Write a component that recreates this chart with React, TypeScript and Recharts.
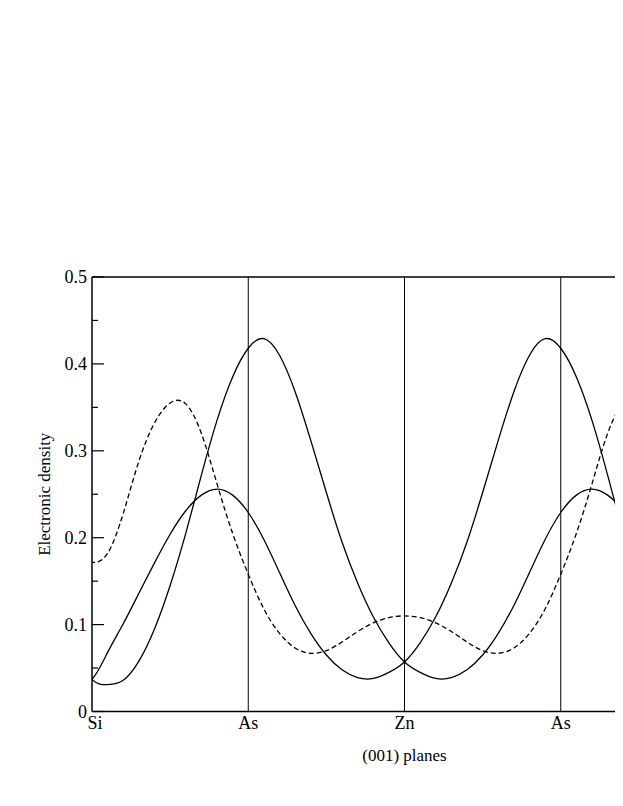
import { LineChart, Line, XAxis, YAxis, ReferenceLine } from "recharts";

// positions along the (001) stacking, in plane units (Si = 0, As = 1, Zn = 2, As = 3)
// one extra sample on each side beyond the frame keeps the curve ends smooth
const POS = [
  -0.1,
  0, 0.1, 0.2, 0.3, 0.4, 0.5, 0.6, 0.7, 0.8, 0.9,
  1, 1.1, 1.2, 1.3, 1.4, 1.5, 1.6, 1.7, 1.8, 1.9,
  2, 2.1, 2.2, 2.3, 2.4, 2.5, 2.6, 2.7, 2.8, 2.9,
  3, 3.1, 3.2, 3.3, 3.4, 3.5, 3.6, 3.7, 3.8, 3.9, 4,
  4.1,
];

// solid curve with the tall peak just after the first As
const STATE_A = [
  0.068,
  0.037, 0.031, 0.036, 0.058, 0.095, 0.145, 0.205, 0.272, 0.335, 0.385,
  0.418, 0.429, 0.410, 0.368, 0.312, 0.252, 0.195, 0.148, 0.109, 0.079,
  0.057, 0.045, 0.038, 0.039, 0.048, 0.065, 0.090, 0.122, 0.160, 0.198,
  0.229, 0.249, 0.256, 0.249, 0.231, 0.204, 0.171, 0.136, 0.101, 0.068, 0.037,
  0.031,
];

// solid curve with the low peak just before the first As
const STATE_B = [
  0.031,
  0.037, 0.068, 0.101, 0.136, 0.171, 0.204, 0.231, 0.249, 0.256, 0.249,
  0.229, 0.198, 0.160, 0.122, 0.090, 0.065, 0.048, 0.039, 0.038, 0.045,
  0.057, 0.079, 0.109, 0.148, 0.195, 0.252, 0.312, 0.368, 0.410, 0.429,
  0.418, 0.385, 0.335, 0.272, 0.205, 0.145, 0.095, 0.058, 0.036, 0.031, 0.037,
  0.068,
];

// dashed curve
const STATE_C = [
  0.182,
  0.172, 0.182, 0.228, 0.288, 0.332, 0.355, 0.354, 0.320, 0.262, 0.205,
  0.158, 0.118, 0.090, 0.073, 0.067, 0.070, 0.080, 0.092, 0.102, 0.108,
  0.110, 0.108, 0.102, 0.092, 0.080, 0.070, 0.067, 0.073, 0.090, 0.118,
  0.158, 0.205, 0.262, 0.320, 0.354, 0.355, 0.332, 0.288, 0.228, 0.182, 0.172,
  0.182,
];

const PLANES = ["Si", "As", "Zn", "As"];
const Y_TICKS = [0, 0.05, 0.1, 0.15, 0.2, 0.25, 0.3, 0.35, 0.4, 0.45, 0.5];

const FONT = "'Liberation Serif', 'DejaVu Serif', serif";

const chartData = POS.map((p, i) => ({
  pos: p,
  a: STATE_A[i],
  b: STATE_B[i],
  c: STATE_C[i],
}));

const YTick = ({ x, y, payload }: any) => {
  const v = payload.value;
  const major = Math.abs(v * 10 - Math.round(v * 10)) < 1e-6;
  const ax = x + 5;
  return (
    <g>
      <line x1={ax} x2={ax + (major ? 12 : 6)} y1={y} y2={y} stroke="#000" strokeWidth={1.2} />
      {major && (
        <text x={x} y={y} dy="0.35em" textAnchor="end" fontFamily={FONT} fontSize={18} fill="#000">
          {v === 0 ? "0" : v.toFixed(1)}
        </text>
      )}
    </g>
  );
};

const XTick = ({ x, y, payload }: any) => (
  <text x={x + (payload.value === 0 ? 3 : 0)} y={y} dy="0.71em" textAnchor="middle"
    fontFamily={FONT} fontSize={18} fill="#000">
    {PLANES[payload.value] ?? ""}
  </text>
);

const YLabel = ({ viewBox }: any) => {
  const cx = 36;
  const cy = viewBox.y + viewBox.height / 2;
  return (
    <text x={cx} y={cy} transform={`rotate(-90 ${cx} ${cy})`} textAnchor="middle" dominantBaseline="central"
      fontFamily={FONT} fontSize={17} fill="#000">
      Electronic density
    </text>
  );
};

const XLabel = ({ viewBox }: any) => (
  <text x={viewBox.x + viewBox.width / 2} y={viewBox.y + 49.5} textAnchor="middle"
    fontFamily={FONT} fontSize={17} fill="#000">
    (001) planes
  </text>
);

export default function App() {
  return (
    <div style={{ width: 615, height: 790, overflow: "hidden", background: "#fff" }}>
      <LineChart width={720} height={790} data={chartData}
        margin={{ top: 269, right: 11, left: 0, bottom: 26.5 }}>
        <XAxis dataKey="pos" type="number" domain={[0, 4]} ticks={[0, 1, 2, 3]} allowDataOverflow
          tickLine={false} tickSize={0} tickMargin={5}
          axisLine={{ stroke: "#000", strokeWidth: 1.5 }} height={60}
          tick={<XTick />}
          label={<XLabel />} />
        <YAxis type="number" domain={[0, 0.5]} ticks={Y_TICKS} width={84} allowDataOverflow
          tickLine={false} tickSize={0} tickMargin={5} tick={<YTick />}
          axisLine={{ stroke: "#000", strokeWidth: 1.5 }}
          label={<YLabel />} />
        <ReferenceLine y={0.5} stroke="#000" strokeWidth={1.5} />
        <ReferenceLine x={1} stroke="#000" strokeWidth={1} />
        <ReferenceLine x={2} stroke="#000" strokeWidth={1} />
        <ReferenceLine x={3} stroke="#000" strokeWidth={1} />
        <Line dataKey="a" type="natural" stroke="#000" strokeWidth={1.3} dot={false} isAnimationActive={false} />
        <Line dataKey="b" type="natural" stroke="#000" strokeWidth={1.3} dot={false} isAnimationActive={false} />
        <Line dataKey="c" type="natural" stroke="#000" strokeWidth={1.3} strokeDasharray="5 3" dot={false} isAnimationActive={false} />
      </LineChart>
    </div>
  );
}
